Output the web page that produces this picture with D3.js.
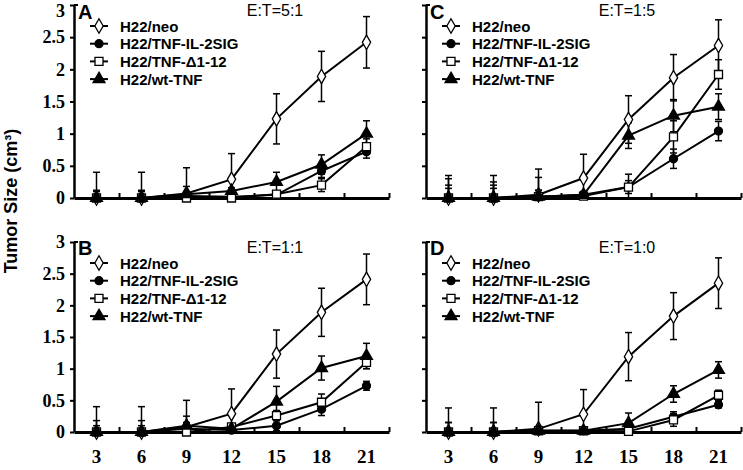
<!DOCTYPE html>
<html><head><meta charset="utf-8">
<script src="https://cdn.jsdelivr.net/npm/d3@7"></script>
<style>body{margin:0;background:#fff}</style>
</head><body><svg id="c" width="743" height="470"></svg>
<script>
const days = [3, 6, 9, 12, 15, 18, 21];
const yTicks = [0, 0.5, 1, 1.5, 2, 2.5, 3];
const seriesNames = ["H22/neo", "H22/TNF-IL-2SIG", "H22/TNF-\u03941-12", "H22/wt-TNF"];
const seriesSymbols = ["diamond", "circle", "square", "triangle"];
const panelLetters = ["A", "B", "C", "D"];
const panelTitles = ["E:T=5:1", "E:T=1:1", "E:T=1:5", "E:T=1:0"];

// Panel A (E:T=5:1)
const A_neo = [0, 0, 0.07, 0.29, 1.23, 1.89, 2.42];
const A_neoErr = [0.4, 0.4, 0.4, 0.4, 0.39, 0.39, 0.4];
const A_sig = [0, 0, 0.03, 0.02, 0.05, 0.42, 0.72];
const A_sigErr = [0.12, 0.12, 0.05, 0.03, 0.05, 0.1, 0.1];
const A_del = [0, 0, 0, 0, 0.06, 0.2, 0.8];
const A_delErr = [0.05, 0.05, 0.05, 0.03, 0.05, 0.1, 0.12];
const A_wt = [0, 0, 0.06, 0.11, 0.25, 0.52, 1.0];
const A_wtErr = [0.1, 0.1, 0.12, 0.05, 0.15, 0.15, 0.2];

// Panel B (E:T=1:1)
const B_neo = [0, 0, 0.08, 0.29, 1.23, 1.89, 2.41];
const B_neoErr = [0.4, 0.4, 0.42, 0.39, 0.38, 0.38, 0.4];
const B_sig = [0, 0, 0.05, 0.03, 0.1, 0.36, 0.73];
const B_sigErr = [0.18, 0.18, 0.1, 0.05, 0.08, 0.1, 0.07];
const B_del = [0, 0, 0, 0.08, 0.26, 0.47, 1.1];
const B_delErr = [0.05, 0.05, 0.05, 0.05, 0.08, 0.13, 0.1];
const B_wt = [0, 0, 0.1, 0.05, 0.48, 1.01, 1.2];
const B_wtErr = [0.1, 0.1, 0.15, 0.05, 0.24, 0.19, 0.2];

// Panel C (E:T=1:5)
const C_neo = [0, 0, 0.05, 0.31, 1.22, 1.87, 2.37];
const C_neoErr = [0.35, 0.35, 0.4, 0.37, 0.37, 0.36, 0.4];
const C_sig = [0, 0, 0.02, 0.05, 0.17, 0.61, 1.04];
const C_sigErr = [0.2, 0.2, 0.1, 0.05, 0.1, 0.15, 0.15];
const C_del = [0, 0, 0.02, 0.03, 0.17, 0.95, 1.92];
const C_delErr = [0.15, 0.15, 0.1, 0.05, 0.2, 0.25, 0.23];
const C_wt = [0, 0, 0.02, 0.05, 0.97, 1.28, 1.42];
const C_wtErr = [0.3, 0.25, 0.3, 0.05, 0.2, 0.25, 0.2];

// Panel D (E:T=1:0)
const D_neo = [0, 0, 0.05, 0.28, 1.19, 1.83, 2.35];
const D_neoErr = [0.38, 0.38, 0.42, 0.39, 0.38, 0.37, 0.4];
const D_sig = [0, 0, 0.02, 0.02, 0.05, 0.24, 0.43];
const D_sigErr = [0.15, 0.15, 0.05, 0.03, 0.05, 0.08, 0.05];
const D_del = [0, 0, 0.02, 0.02, 0.01, 0.19, 0.58];
const D_delErr = [0.05, 0.05, 0.05, 0.05, 0.05, 0.1, 0.08];
const D_wt = [0, 0, 0.02, 0.02, 0.14, 0.6, 0.98];
const D_wtErr = [0.15, 0.15, 0.05, 0.03, 0.16, 0.13, 0.13];

const panelData = [
  {vals: [A_neo, A_sig, A_del, A_wt], errs: [A_neoErr, A_sigErr, A_delErr, A_wtErr]},
  {vals: [B_neo, B_sig, B_del, B_wt], errs: [B_neoErr, B_sigErr, B_delErr, B_wtErr]},
  {vals: [C_neo, C_sig, C_del, C_wt], errs: [C_neoErr, C_sigErr, C_delErr, C_wtErr]},
  {vals: [D_neo, D_sig, D_del, D_wt], errs: [D_neoErr, D_sigErr, D_delErr, D_wtErr]}
];

// layout
const layout = [
  {x0: 74, x1: 389, y0: 198, y1: 5, yLabels: true, xLabels: false},
  {x0: 74, x1: 389, y0: 432, y1: 242, yLabels: true, xLabels: true},
  {x0: 426, x1: 741, y0: 198, y1: 5, yLabels: false, xLabels: false},
  {x0: 426, x1: 741, y0: 432, y1: 242, yLabels: false, xLabels: true}
];

const svg = d3.select("#c");
const serif = "'Liberation Serif','Times New Roman',serif";
const sans = "'Liberation Sans',Arial,sans-serif";

function symbolPath(type) {
  const map = {diamond: d3.symbolDiamond, circle: d3.symbolCircle, square: d3.symbolSquare, triangle: d3.symbolTriangle};
  const size = {diamond: 60, circle: 50, square: 64, triangle: 62}[type];
  return d3.symbol().type(map[type]).size(size)();
}
function symbolFill(type) { return (type === "diamond" || type === "square") ? "#fff" : "#000"; }

panelData.forEach((pd, pi) => {
  const L = layout[pi];
  const x = d3.scaleLinear().domain([1.5, 22.5]).range([L.x0, L.x1]);
  const y = d3.scaleLinear().domain([0, 3]).range([L.y0, L.y1]);
  const g = svg.append("g");

  // y axis
  const yAxis = d3.axisLeft(y).tickValues(yTicks).tickSize(4).tickSizeOuter(0)
    .tickFormat(L.yLabels ? d3.format("") : () => "");
  const ya = g.append("g").attr("transform", `translate(${L.x0},0)`).call(yAxis);
  ya.select(".domain").attr("stroke-width", 2.5);
  ya.selectAll(".tick line").attr("stroke-width", 2);
  ya.selectAll("text").attr("font-family", serif).attr("font-weight", "bold")
    .attr("font-size", 18).attr("fill", "#000").attr("x", -9)
    .attr("y", d => Math.max(0, 11 - y(d)));
  // top hook
  g.append("line").attr("x1", L.x0).attr("x2", L.x0 + 4).attr("y1", y(3)).attr("y2", y(3))
    .attr("stroke", "#000").attr("stroke-width", 2);

  // x axis (ticks between categories, pointing up)
  const bounds = d3.range(4.5, 23, 3);
  const xAxis = d3.axisBottom(x).tickValues(bounds).tickSize(-5).tickSizeOuter(0).tickFormat(() => "");
  const xa = g.append("g").attr("transform", `translate(0,${L.y0})`).call(xAxis);
  xa.select(".domain").attr("stroke-width", 3);
  xa.selectAll(".tick line").attr("stroke-width", 2);
  if (L.xLabels) {
    g.selectAll("text.xl").data(days).join("text").attr("class", "xl")
      .attr("x", d => x(d)).attr("y", L.y0 + 31).attr("text-anchor", "middle")
      .attr("font-family", serif).attr("font-weight", "bold").attr("font-size", 19)
      .text(d => d);
  }

  // error bars
  pd.vals.forEach((vals, si) => {
    vals.forEach((v, i) => {
      const e = pd.errs[si][i];
      const hi = v + e, lo = Math.max(v - e, 0);
      const cx = x(days[i]);
      g.append("line").attr("x1", cx).attr("x2", cx).attr("y1", y(hi)).attr("y2", y(lo))
        .attr("stroke", "#000").attr("stroke-width", 1.5);
      g.append("line").attr("x1", cx - 3.5).attr("x2", cx + 3.5).attr("y1", y(hi)).attr("y2", y(hi))
        .attr("stroke", "#000").attr("stroke-width", 1.5);
      if (v - e > 0) {
        g.append("line").attr("x1", cx - 3.5).attr("x2", cx + 3.5).attr("y1", y(lo)).attr("y2", y(lo))
          .attr("stroke", "#000").attr("stroke-width", 1.5);
      }
    });
  });

  // lines
  const line = d3.line().x((d, i) => x(days[i])).y(d => y(d));
  pd.vals.forEach((vals) => {
    g.append("path").attr("d", line(vals)).attr("fill", "none").attr("stroke", "#000").attr("stroke-width", 2);
  });
  // markers
  pd.vals.forEach((vals, si) => {
    const t = seriesSymbols[si];
    g.selectAll(null).data(vals).join("path")
      .attr("d", symbolPath(t))
      .attr("transform", (d, i) => `translate(${x(days[i])},${y(d)})`)
      .attr("fill", symbolFill(t)).attr("stroke", "#000").attr("stroke-width", 1.3);
  });

  // legend
  const top = y(3);
  seriesNames.forEach((name, si) => {
    const ly = top + 21 + si * 17.7;
    const lx = L.x0 + 25;
    g.append("line").attr("x1", lx - 9).attr("x2", lx + 9).attr("y1", ly).attr("y2", ly)
      .attr("stroke", "#000").attr("stroke-width", 2);
    const t = seriesSymbols[si];
    g.append("path").attr("d", symbolPath(t)).attr("transform", `translate(${lx},${ly})`)
      .attr("fill", symbolFill(t)).attr("stroke", "#000").attr("stroke-width", 1.3);
    g.append("text").attr("x", L.x0 + 46).attr("y", ly + 5.5)
      .attr("font-family", sans).attr("font-weight", "bold").attr("font-size", 15)
      .text(name);
  });

  // panel letter and title
  g.append("text").attr("x", L.x0 + 4).attr("y", Math.max(top + 13, 19))
    .attr("font-family", sans).attr("font-weight", "bold").attr("font-size", 20)
    .text(panelLetters[pi]);
  g.append("text").attr("x", L.x0 + 201).attr("y", Math.max(top + 11, 15)).attr("text-anchor", "middle")
    .attr("font-family", sans).attr("font-size", 16)
    .text(panelTitles[pi]);
});

// y title
svg.append("text").attr("transform", "translate(17,201) rotate(-90)")
  .attr("text-anchor", "middle").attr("font-family", sans).attr("font-weight", "bold")
  .attr("font-size", 18).text("Tumor Size (cm\u00B3)");
</script></body></html>
